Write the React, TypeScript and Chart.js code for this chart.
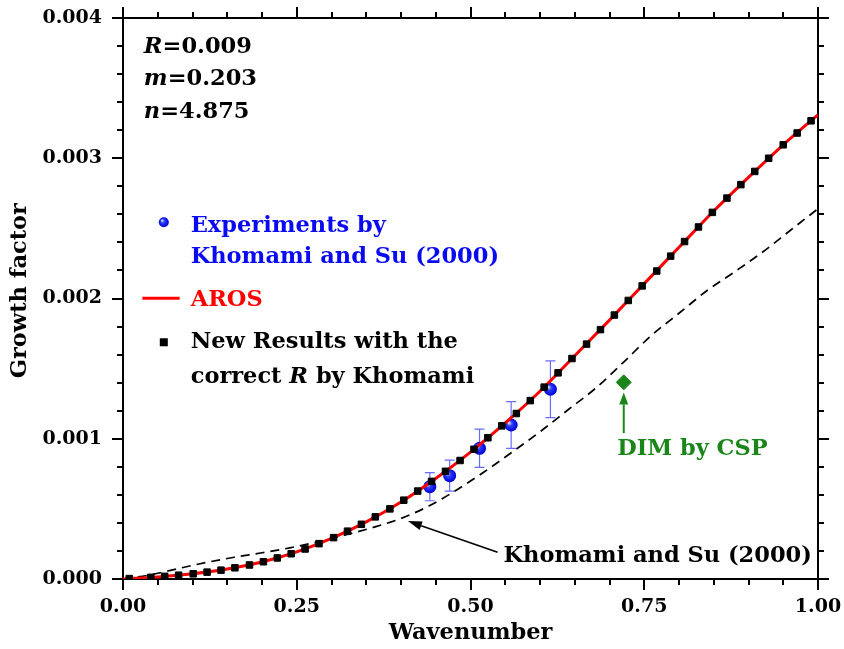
import React, { useEffect, useRef } from 'react';
import { Chart, registerables } from 'chart.js';

Chart.register(...registerables);

const FONT = '"DejaVu Serif", "Liberation Serif", serif';
const TXT = 22.5;

// ---- axis ticks ----
const xTickValues = [0, 0.25, 0.5, 0.75, 1.0];
const yTickValues = [0, 0.001, 0.002, 0.003, 0.004];

// ---- AROS (red line) ----
const arosX = [0, 0.05, 0.1, 0.15, 0.2, 0.25, 0.3, 0.35, 0.4, 0.45, 0.5, 0.55, 0.6, 0.65, 0.7, 0.75, 0.8, 0.85, 0.9, 0.95, 1.0];
const arosY = [0, 0.015e-3, 0.037e-3, 0.071e-3, 0.121e-3, 0.193e-3, 0.289e-3, 0.407e-3, 0.549e-3, 0.717e-3, 0.905e-3, 1.113e-3, 1.339e-3, 1.592e-3, 1.846e-3, 2.106e-3, 2.365e-3, 2.624e-3, 2.864e-3, 3.096e-3, 3.31e-3];

// ---- New results with the correct R (black squares) ----
const newX = [0.009, 0.040, 0.060, 0.080, 0.101, 0.121, 0.141, 0.161, 0.182, 0.202, 0.222, 0.242, 0.262, 0.282, 0.303, 0.323, 0.343, 0.363, 0.384, 0.404, 0.424, 0.444, 0.464, 0.485, 0.505, 0.525, 0.545, 0.566, 0.586, 0.606, 0.626, 0.646, 0.667, 0.687, 0.707, 0.727, 0.747, 0.768, 0.788, 0.808, 0.828, 0.848, 0.869, 0.889, 0.909, 0.929, 0.950, 0.970, 0.990];
const newY = [0.003e-3, 0.012e-3, 0.019e-3, 0.027e-3, 0.037e-3, 0.049e-3, 0.063e-3, 0.080e-3, 0.100e-3, 0.123e-3, 0.150e-3, 0.180e-3, 0.214e-3, 0.252e-3, 0.295e-3, 0.341e-3, 0.390e-3, 0.443e-3, 0.500e-3, 0.562e-3, 0.627e-3, 0.696e-3, 0.768e-3, 0.845e-3, 0.925e-3, 1.007e-3, 1.092e-3, 1.180e-3, 1.272e-3, 1.368e-3, 1.470e-3, 1.572e-3, 1.675e-3, 1.778e-3, 1.882e-3, 1.986e-3, 2.090e-3, 2.196e-3, 2.302e-3, 2.406e-3, 2.510e-3, 2.614e-3, 2.716e-3, 2.812e-3, 2.906e-3, 3.000e-3, 3.096e-3, 3.180e-3, 3.267e-3];

// ---- Khomami and Su (2000) (dashed) ----
const khomamiX = [0, 0.04, 0.08, 0.12, 0.16, 0.2, 0.24, 0.28, 0.32, 0.36, 0.4, 0.44, 0.48, 0.52, 0.56, 0.6, 0.64, 0.68, 0.72, 0.76, 0.8, 0.84, 0.88, 0.92, 0.96, 1.0];
const khomamiY = [0, 0.030e-3, 0.075e-3, 0.118e-3, 0.155e-3, 0.187e-3, 0.222e-3, 0.265e-3, 0.314e-3, 0.368e-3, 0.432e-3, 0.520e-3, 0.635e-3, 0.765e-3, 0.905e-3, 1.050e-3, 1.205e-3, 1.360e-3, 1.545e-3, 1.735e-3, 1.895e-3, 2.055e-3, 2.190e-3, 2.330e-3, 2.485e-3, 2.640e-3];

// ---- Experiments by Khomami and Su (2000) ----
const expX = [0.4415, 0.470, 0.513, 0.5585, 0.615];
const expY = [0.658e-3, 0.737e-3, 0.932e-3, 1.098e-3, 1.353e-3];
const expErr = [0.100e-3, 0.110e-3, 0.136e-3, 0.167e-3, 0.202e-3];

// ---- DIM by CSP ----
const dimX = [0.7205];
const dimY = [1.402e-3];

// ---- parameters ----
const paramNames = ['R', 'm', 'n'];
const paramValues = ['=0.009', '=0.203', '=4.875'];

const BLUE = '#0a0af2';
const RED = '#ff0000';
const GREEN = '#1a861a';

function pts(xs: number[], ys: number[]) {
  return xs.map((x, i) => ({ x, y: ys[i] }));
}

type Seg = { t: string; it?: boolean };
function drawSegs(ctx: CanvasRenderingContext2D, segs: Seg[], x: number, y: number, size: number, color: string) {
  let cx = x;
  ctx.fillStyle = color;
  ctx.textBaseline = 'alphabetic';
  ctx.textAlign = 'left';
  for (const s of segs) {
    ctx.font = `${s.it ? 'italic ' : ''}bold ${size}px ${FONT}`;
    ctx.fillText(s.t, cx, y);
    cx += ctx.measureText(s.t).width;
  }
}

function arrow(ctx: CanvasRenderingContext2D, x1: number, y1: number, x2: number, y2: number, color: string, lw: number, hl: number, hw: number) {
  const a = Math.atan2(y2 - y1, x2 - x1);
  const bx = x2 - hl * Math.cos(a);
  const by = y2 - hl * Math.sin(a);
  ctx.strokeStyle = color;
  ctx.fillStyle = color;
  ctx.lineWidth = lw;
  ctx.beginPath();
  ctx.moveTo(x1, y1);
  ctx.lineTo(bx, by);
  ctx.stroke();
  ctx.beginPath();
  ctx.moveTo(x2, y2);
  ctx.lineTo(bx + hw * Math.sin(a), by - hw * Math.cos(a));
  ctx.lineTo(bx - hw * Math.sin(a), by + hw * Math.cos(a));
  ctx.closePath();
  ctx.fill();
}

function sphereFill(ctx: CanvasRenderingContext2D, x: number, y: number, r: number) {
  const g = ctx.createRadialGradient(x - r * 0.35, y - r * 0.35, r * 0.1, x, y, r);
  g.addColorStop(0, '#c8d0ff');
  g.addColorStop(0.35, '#2a3cff');
  g.addColorStop(1, '#0000d0');
  return g;
}

function sphere(ctx: CanvasRenderingContext2D, x: number, y: number, r: number) {
  ctx.fillStyle = sphereFill(ctx, x, y, r);
  ctx.beginPath();
  ctx.arc(x, y, r, 0, Math.PI * 2);
  ctx.fill();
}

const decorPlugin = {
  id: 'decor',
  beforeDatasetsDraw(chart: any) {
    const { ctx } = chart;
    const xs = chart.scales.x;
    const ys = chart.scales.y;
    ctx.save();
    ctx.strokeStyle = '#6a6aff';
    ctx.lineWidth = 1.2;
    expX.forEach((x, i) => {
      const px = xs.getPixelForValue(x);
      const t = ys.getPixelForValue(expY[i] + expErr[i]);
      const b = ys.getPixelForValue(expY[i] - expErr[i]);
      ctx.beginPath();
      ctx.moveTo(px, t);
      ctx.lineTo(px, b);
      ctx.moveTo(px - 5, t);
      ctx.lineTo(px + 5, t);
      ctx.moveTo(px - 5, b);
      ctx.lineTo(px + 5, b);
      ctx.stroke();
    });
    ctx.restore();
  },
  afterDraw(chart: any) {
    const { ctx, chartArea: ca } = chart;
    const xs = chart.scales.x;
    const ys = chart.scales.y;
    const X = (v: number) => xs.getPixelForValue(v);
    const Y = (v: number) => ys.getPixelForValue(v);
    ctx.save();
    // minor ticks
    ctx.strokeStyle = '#000';
    ctx.lineWidth = 2;
    ctx.beginPath();
    for (let i = 1; i < 20; i++) {
      if (i % 5 === 0) continue;
      const px = Math.round(X(i * 0.05));
      ctx.moveTo(px, ca.bottom);
      ctx.lineTo(px, ca.bottom + 6);
      ctx.moveTo(px, ca.top);
      ctx.lineTo(px, ca.top - 6);
    }
    for (let i = 1; i < 20; i++) {
      if (i % 5 === 0) continue;
      const py = Math.round(Y(i * 0.0002));
      ctx.moveTo(ca.left - 6, py);
      ctx.lineTo(ca.left, py);
      ctx.moveTo(ca.right, py);
      ctx.lineTo(ca.right + 6, py);
    }
    ctx.stroke();

    // parameters
    const paramBase = [3.754e-3, 3.524e-3, 3.286e-3];
    paramNames.forEach((n, i) => {
      drawSegs(ctx, [{ t: n, it: true }, { t: paramValues[i] }], X(0.030), Y(paramBase[i]), TXT, '#000');
    });

    // legend
    sphere(ctx, X(0.0587), Y(2.544e-3), 5);
    drawSegs(ctx, [{ t: 'Experiments by' }], X(0.0974), Y(2.477e-3), TXT, BLUE);
    drawSegs(ctx, [{ t: 'Khomami and Su (2000)' }], X(0.0974), Y(2.252e-3), TXT, BLUE);
    ctx.strokeStyle = RED;
    ctx.lineWidth = 3;
    ctx.beginPath();
    ctx.moveTo(X(0.0279), Y(2.002e-3));
    ctx.lineTo(X(0.0815), Y(2.002e-3));
    ctx.stroke();
    drawSegs(ctx, [{ t: 'AROS' }], X(0.0974), Y(1.947e-3), TXT, RED);
    ctx.fillStyle = '#000';
    ctx.fillRect(X(0.0587) - 4, Y(1.688e-3) - 4, 8, 8);
    drawSegs(ctx, [{ t: 'New Results with the' }], X(0.0974), Y(1.646e-3), TXT, '#000');
    drawSegs(ctx, [{ t: 'correct ' }, { t: 'R', it: true }, { t: ' by Khomami' }], X(0.0974), Y(1.396e-3), TXT, '#000');

    // DIM annotation
    arrow(ctx, X(0.7205), Y(1.04e-3), X(0.7205), Y(1.33e-3), GREEN, 2, 12, 4.5);
    drawSegs(ctx, [{ t: 'DIM by CSP' }], X(0.711), Y(0.884e-3), TXT, GREEN);

    // Khomami annotation
    arrow(ctx, X(0.539), Y(0.19e-3), X(0.410), Y(0.413e-3), '#000', 1.6, 14, 4.5);
    drawSegs(ctx, [{ t: 'Khomami and Su (2000)' }], X(0.5475), Y(0.123e-3), TXT, '#000');
    ctx.restore();
  },
};

export default function App() {
  const ref = useRef<HTMLCanvasElement | null>(null);
  useEffect(() => {
    if (!ref.current) return;
    const tickFont = { family: FONT, size: 19, weight: 'bold' as const };
    const frameGrid = { display: true, drawOnChartArea: false, drawTicks: true, tickLength: 11, lineWidth: 2, color: '#000' };
    const border = { display: true, color: '#000', width: 2 };
    const fixH = (h: number) => (s: any) => { s.height = h; s.paddingLeft = 0; s.paddingRight = 0; };
    const fixW = (w: number) => (s: any) => { s.width = w; s.paddingTop = 0; s.paddingBottom = 0; };
    const chart = new Chart(ref.current, {
      type: 'scatter',
      data: {
        datasets: [
          {
            label: 'New Results with the correct R by Khomami',
            data: pts(newX, newY),
            showLine: false,
            pointStyle: 'rect',
            pointRadius: 4.6,
            pointBackgroundColor: '#000',
            pointBorderColor: '#000',
            pointBorderWidth: 1,
            order: 0,
          },
          {
            label: 'AROS',
            data: pts(arosX, arosY),
            showLine: true,
            borderColor: RED,
            borderWidth: 3,
            pointRadius: 0,
            cubicInterpolationMode: 'monotone',
            order: 1,
          },
          {
            label: 'Khomami and Su (2000)',
            data: pts(khomamiX, khomamiY),
            showLine: true,
            borderColor: '#000',
            borderWidth: 1.7,
            borderDash: [9, 6],
            pointRadius: 0,
            cubicInterpolationMode: 'monotone',
            order: 2,
          },
          {
            label: 'Experiments by Khomami and Su (2000)',
            data: pts(expX, expY),
            showLine: false,
            pointRadius: 6.5,
            pointBorderWidth: 0,
            pointBackgroundColor: (c: any) => {
              const ch = c.chart;
              if (!c.parsed || !ch.scales || !ch.scales.x || !ch.scales.y) return '#1020ff';
              const px = ch.scales.x.getPixelForValue(c.parsed.x);
              const py = ch.scales.y.getPixelForValue(c.parsed.y);
              if (!Number.isFinite(px) || !Number.isFinite(py)) return '#1020ff';
              return sphereFill(ch.ctx, px, py, 6.5);
            },
            order: 3,
          },
          {
            label: 'DIM by CSP',
            data: pts(dimX, dimY),
            showLine: false,
            pointStyle: 'rectRot',
            pointRadius: 7.5,
            pointBackgroundColor: GREEN,
            pointBorderColor: GREEN,
            pointBorderWidth: 1,
            order: 4,
          },
        ],
      },
      options: {
        animation: false,
        responsive: false,
        events: [],
        layout: { padding: 0 },
        plugins: { legend: { display: false }, tooltip: { enabled: false } },
        scales: {
          x: {
            type: 'linear',
            position: 'bottom',
            min: 0,
            max: 1,
            afterBuildTicks: (s: any) => { s.ticks = xTickValues.map((v) => ({ value: v })); },
            afterFit: fixH(70),
            ticks: { font: tickFont, color: '#000', padding: 6, maxRotation: 0, callback: (v: any) => Number(v).toFixed(2) },
            grid: frameGrid,
            border,
            title: { display: true, text: 'Wavenumber', color: '#000', font: { family: FONT, size: TXT, weight: 'bold' }, padding: { top: 0, bottom: 2 } },
          },
          x2: {
            type: 'linear',
            position: 'top',
            min: 0,
            max: 1,
            afterBuildTicks: (s: any) => { s.ticks = xTickValues.map((v) => ({ value: v })); },
            afterFit: fixH(18),
            ticks: { display: false },
            grid: frameGrid,
            border,
          },
          y: {
            type: 'linear',
            position: 'left',
            min: 0,
            max: 0.004,
            afterBuildTicks: (s: any) => { s.ticks = yTickValues.map((v) => ({ value: v })); },
            afterFit: fixW(123),
            ticks: { font: tickFont, color: '#000', padding: 10, callback: (v: any) => Number(v).toFixed(3) },
            grid: frameGrid,
            border,
            title: { display: true, text: '  Growth factor', color: '#000', font: { family: FONT, size: TXT, weight: 'bold' }, padding: { top: 7, bottom: 0 } },
          },
          y2: {
            type: 'linear',
            position: 'right',
            min: 0,
            max: 0.004,
            afterBuildTicks: (s: any) => { s.ticks = yTickValues.map((v) => ({ value: v })); },
            afterFit: fixW(26),
            ticks: { display: false },
            grid: frameGrid,
            border,
          },
        },
      },
      plugins: [decorPlugin],
    } as any);
    return () => chart.destroy();
  }, []);
  return (
    <div style={{ position: 'absolute', left: 0, top: 0, width: 844, height: 649, background: '#fff' }}>
      <canvas ref={ref} width={844} height={649} style={{ display: 'block', width: 844, height: 649 }} />
    </div>
  );
}
